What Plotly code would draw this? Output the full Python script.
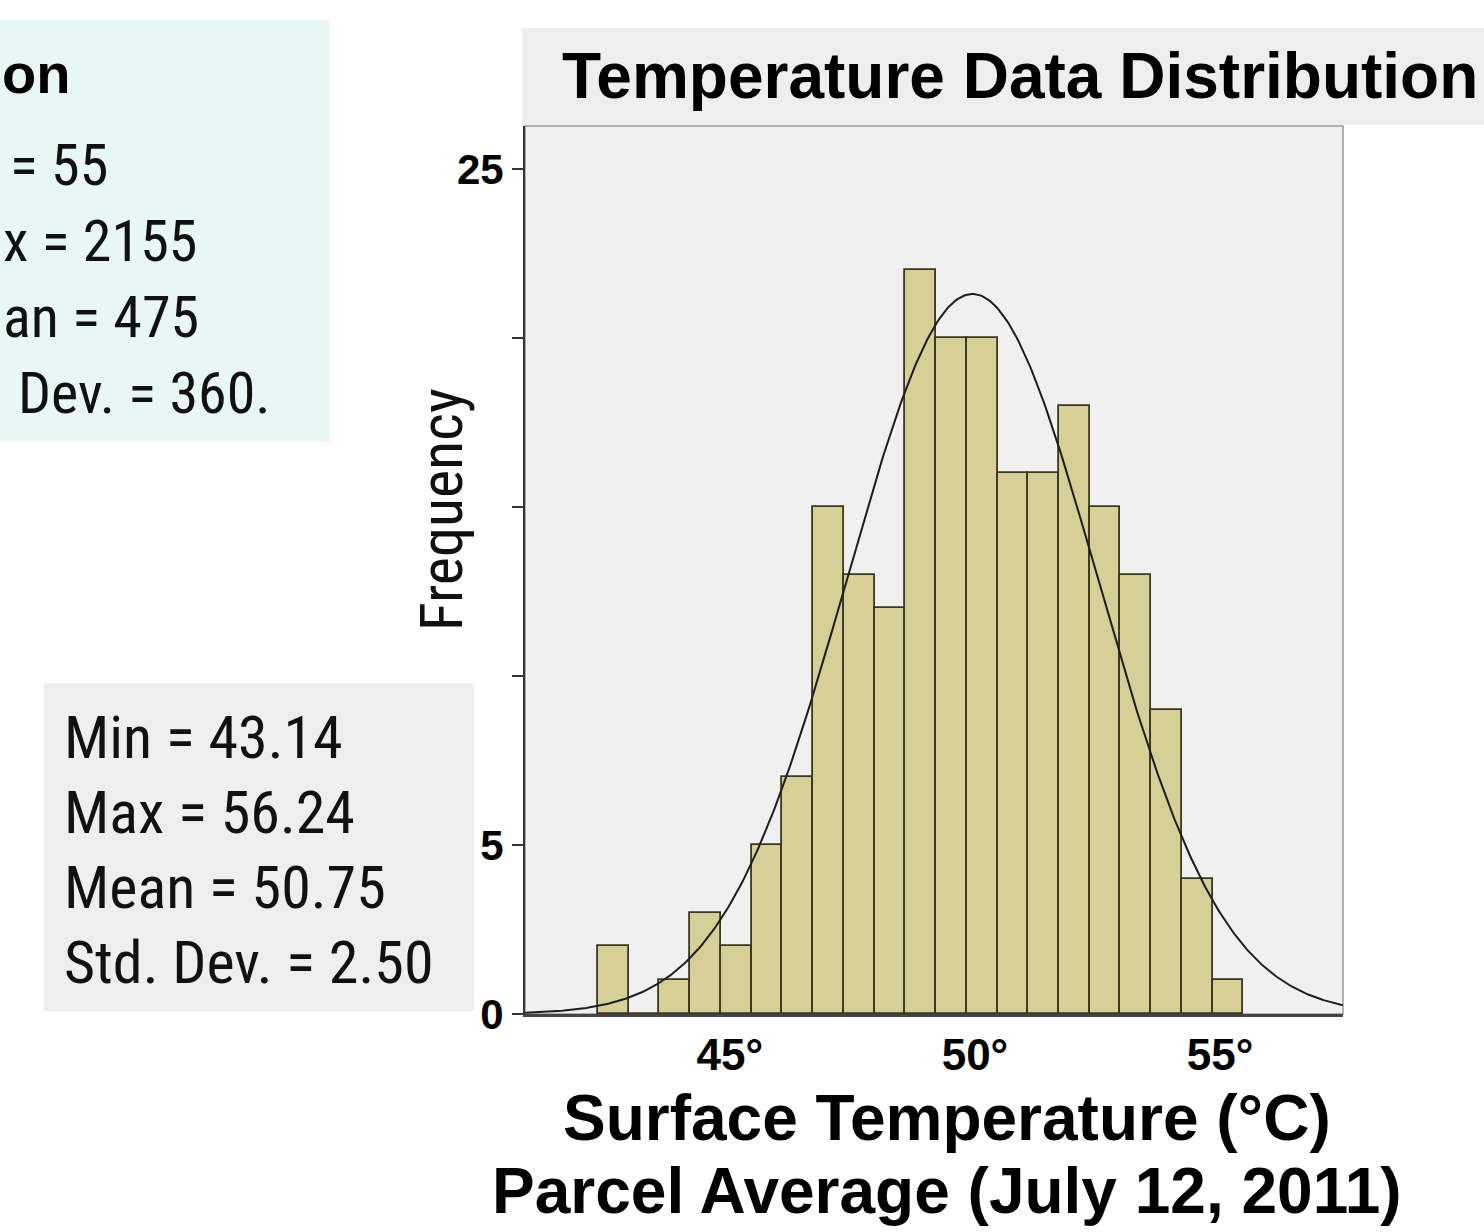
import numpy as np
import plotly.graph_objects as go

# ---------------- data ----------------
bin_start = 42.31          # left edge of first histogram bin (°C)
bin_width = 0.627          # bin width (°C)
counts = [2, 0, 1, 3, 2, 5, 7, 15, 13, 12, 22, 20, 20, 16, 16, 18, 15, 13, 9, 4, 1]

x_tick_vals = [45, 50, 55]
x_tick_text = ["45°", "50°", "55°"]
y_tick_vals = [0, 5, 10, 15, 20, 25]
y_tick_text = ["0", "5", "", "", "", "25"]

# fitted normal curve parameters (as drawn)
curve_mean = 49.95
curve_sd = 2.55
curve_peak = 21.3

stats_lines = ["Min = 43.14", "Max = 56.24", "Mean = 50.75", "Std. Dev. = 2.50"]
other_lines = ["= 55", "x = 2155", "an = 475", "Dev. = 360."]
other_title = "on"

title_text = "Temperature Data Distribution"
xtitle_lines = ["Surface Temperature (°C)", "Parcel Average (July 12, 2011)"]
ytitle_text = "Frequency"

# ---------------- layout geometry ----------------
W, H = 1484, 1232
L, R, T, B = 525, 1343, 126, 1014   # plot area in pixels
x_range = [40.82, 57.51]
y_range = [0, 26.27]

def px(xp):
    return (xp - L) / (R - L)

def py(yp):
    return (B - yp) / (B - T)

NARROW = "Liberation Sans Narrow, Arial Narrow, Roboto Condensed, DejaVu Sans Condensed, sans-serif"
BOLD = "Liberation Sans, Arial, Helvetica, sans-serif"

centers = [bin_start + bin_width * (i + 0.5) for i in range(len(counts))]

xc = np.linspace(x_range[0], x_range[1], 400)
yc = curve_peak * np.exp(-((xc - curve_mean) ** 2) / (2 * curve_sd ** 2))

fig = go.Figure()
fig.add_trace(go.Bar(
    x=centers, y=counts, width=bin_width,
    marker=dict(color="#d6cf97", line=dict(color="#3b3720", width=1.8)),
    showlegend=False, hoverinfo="skip",
))
fig.add_trace(go.Scatter(
    x=xc, y=yc, mode="lines",
    line=dict(color="#1e1e1e", width=2),
    showlegend=False, hoverinfo="skip",
))

shapes = [
    # cyan box (cropped neighbouring panel)
    dict(type="rect", xref="paper", yref="paper", x0=px(-5), x1=px(329), y0=py(20), y1=py(442),
         fillcolor="#e9f6f6", line=dict(width=0), layer="below"),
    # grey stats box
    dict(type="rect", xref="paper", yref="paper", x0=px(44), x1=px(474), y0=py(683), y1=py(1011),
         fillcolor="#eeeeee", line=dict(width=0), layer="below"),
    # title band
    dict(type="rect", xref="paper", yref="paper", x0=px(522), x1=px(1490), y0=py(28), y1=py(125),
         fillcolor="#eeeeee", line=dict(width=0), layer="below"),
    # plot border
    dict(type="rect", xref="paper", yref="paper", x0=0, x1=1, y0=0, y1=1,
         line=dict(color="#9a9a9a", width=1.5), layer="below"),
]

ann = []
ann.append(dict(text=title_text, x=px(1020), y=py(76), xref="paper", yref="paper",
                xanchor="center", yanchor="middle", showarrow=False,
                font=dict(family=BOLD, size=64, color="#000", weight="bold")))
ann.append(dict(text=ytitle_text, x=px(441), y=py(510), xref="paper", yref="paper",
                xanchor="center", yanchor="middle", showarrow=False, textangle=-90,
                font=dict(family=NARROW, size=60, color="#111")))
for i, t in enumerate(xtitle_lines):
    ann.append(dict(text=t, x=px(947), y=py(1118 + 73 * i), xref="paper", yref="paper",
                    xanchor="center", yanchor="middle", showarrow=False,
                    font=dict(family=BOLD, size=64, color="#000", weight="bold")))
for i, t in enumerate(stats_lines):
    ann.append(dict(text=t, x=px(62), y=py(737 + 75 * i), xref="paper", yref="paper",
                    xanchor="left", yanchor="middle", showarrow=False,
                    font=dict(family=NARROW, size=60, color="#111")))
other_left = [8, 1, 1, 16]
for i, t in enumerate(other_lines):
    ann.append(dict(text=t, x=px(other_left[i]), y=py(165 + 76 * i), xref="paper", yref="paper",
                    xanchor="left", yanchor="middle", showarrow=False,
                    font=dict(family=NARROW, size=58, color="#111")))
ann.append(dict(text=other_title, x=px(0), y=py(74), xref="paper", yref="paper",
                xanchor="left", yanchor="middle", showarrow=False,
                font=dict(family=BOLD, size=56, color="#000", weight="bold")))

fig.update_layout(
    width=W, height=H, autosize=False,
    margin=dict(l=L, r=W - R, t=T, b=H - B, pad=0),
    paper_bgcolor="white", plot_bgcolor="#f0f0f0",
    bargap=0, shapes=shapes, annotations=ann,
    xaxis=dict(range=x_range, tickvals=x_tick_vals, ticktext=x_tick_text,
               showgrid=False, zeroline=False, showline=True, linecolor="#444", linewidth=3,
               ticks="", ticklen=0, ticklabelstandoff=0,
               tickfont=dict(family=BOLD, size=44, color="#000", weight="bold")),
    yaxis=dict(range=y_range, tickvals=y_tick_vals, ticktext=y_tick_text,
               showgrid=False, zeroline=False, showline=True, linecolor="#333", linewidth=2,
               ticks="outside", ticklen=11, tickwidth=2, tickcolor="#333", ticklabelstandoff=0,
               tickfont=dict(family=BOLD, size=42, color="#000", weight="bold")),
)

fig.write_html("out.html", config={"displayModeBar": False},
               post_script="document.body.style.margin='0px';")
